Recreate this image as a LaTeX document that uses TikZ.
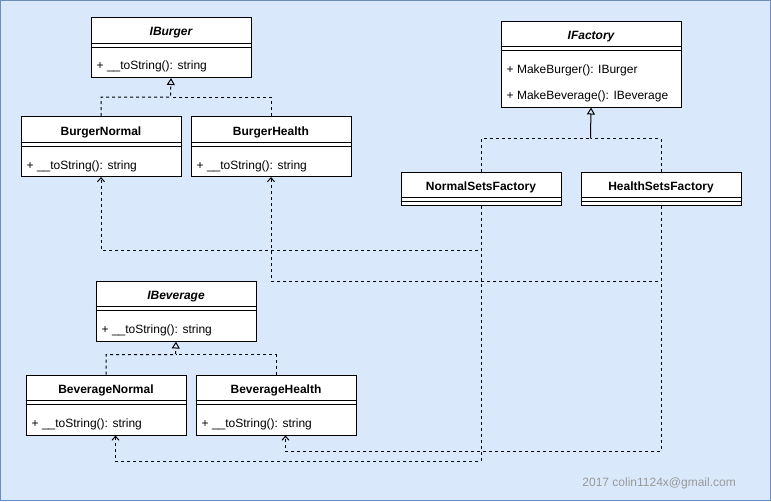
\documentclass[tikz,border=0pt]{standalone}
\usepackage{fontspec}
\setmainfont{Liberation Sans}
\usetikzlibrary{arrows.meta}
\definecolor{bgfill}{HTML}{DAE8FC}
\definecolor{bgline}{HTML}{6C8EBF}
\definecolor{footgray}{HTML}{999999}
\tikzset{
  cls/.style={draw, fill=white, line width=1pt, anchor=north west, inner sep=0pt, minimum width=160pt, minimum height=60pt},
  ttl/.style={font=\fontsize{12}{14}\selectfont\bfseries, inner sep=0pt},
  ittl/.style={font=\fontsize{12}{14}\selectfont\bfseries\itshape, inner sep=0pt},
  meth/.style={font=\fontsize{12}{14}\selectfont, inner sep=0pt, anchor=west},
  real/.style={line width=1pt, dash pattern=on 3pt off 3pt, -{Triangle[open, length=7pt, width=8pt, line width=1pt]}},
  realplain/.style={line width=1pt, dash pattern=on 3pt off 3pt},
  inh/.style={line width=1pt, -{Triangle[open, length=7pt, width=8pt, line width=1pt]}},
  dep/.style={line width=1pt, dash pattern=on 3pt off 3pt, -{Straight Barb[length=4pt, width=7pt, line width=1pt]}},
}
\newcommand\clssep[1]{%
  \draw[line width=1pt] ([yshift=-26pt]#1.north west) -- ([yshift=-26pt]#1.north east);
  \draw[line width=1pt] ([yshift=-30pt]#1.north west) -- ([yshift=-30pt]#1.north east);
}
\begin{document}
\begin{tikzpicture}[x=1pt, y=-1pt]
\useasboundingbox (0,0) rectangle (771,501);
\draw[fill=bgfill, draw=bgline, line width=1pt] (0.5,0.5) rectangle (770.5,500.5);

% classes
\node[cls] (ib) at (90.5,17) {};
\node[cls] (bn) at (20.5,116) {};
\node[cls] (bh) at (190.5,116) {};
\node[cls, minimum width=180pt, minimum height=86pt] (if) at (500.5,20.5) {};
\node[cls, minimum height=33.5pt] (nsf) at (400.5,171.5) {};
\node[cls, minimum height=33.5pt] (hsf) at (580.5,171.5) {};
\node[cls] (ibv) at (95.5,280.5) {};
\node[cls] (bvn) at (25.5,374.5) {};
\node[cls] (bvh) at (195.5,374.5) {};

\clssep{ib}\clssep{bn}\clssep{bh}\clssep{if}\clssep{nsf}\clssep{hsf}\clssep{ibv}\clssep{bvn}\clssep{bvh}

% titles
\node[ittl] (ibt) at ([yshift=-16pt]ib.north) {IBurger};
\node[ttl] (bnt) at ([yshift=-16pt]bn.north) {BurgerNormal};
\node[ttl] (bht) at ([yshift=-16pt]bh.north) {BurgerHealth};
\node[ittl] (ift) at ([yshift=-16pt]if.north) {IFactory};
\node[ttl] (nsft) at ([yshift=-16pt]nsf.north) {NormalSetsFactory};
\node[ttl] (hsft) at ([yshift=-16pt]hsf.north) {HealthSetsFactory};
\node[ittl] (ibvt) at ([yshift=-16pt]ibv.north) {IBeverage};
\node[ttl] (bvnt) at ([yshift=-16pt]bvn.north) {BeverageNormal};
\node[ttl] (bvht) at ([yshift=-16pt]bvh.north) {BeverageHealth};

% methods
\node[meth] (ibm) at ([xshift=6pt, yshift=-49pt]ib.north west) {+ \_\_toString(): string};
\node[meth] (bnm) at ([xshift=6pt, yshift=-50pt]bn.north west) {+ \_\_toString(): string};
\node[meth] (bhm) at ([xshift=6pt, yshift=-50pt]bh.north west) {+ \_\_toString(): string};
\node[meth] (ifm1) at ([xshift=6pt, yshift=-50.3pt]if.north west) {+ MakeBurger(): IBurger};
\node[meth] (ifm2) at ([xshift=6pt, yshift=-75.6pt]if.north west) {+ MakeBeverage(): IBeverage};
\node[meth] (ibvm) at ([xshift=6pt, yshift=-49.8pt]ibv.north west) {+ \_\_toString(): string};
\node[meth] (bvnm) at ([xshift=6pt, yshift=-50pt]bvn.north west) {+ \_\_toString(): string};
\node[meth] (bvhm) at ([xshift=6pt, yshift=-50pt]bvh.north west) {+ \_\_toString(): string};

% realizations
\coordinate (jb) at (170.5,97);
\draw[real] (bn.north) |- (jb) -- (ib.south);
\draw[realplain] (bh.north) |- (jb);

\coordinate (jbv) at (175.5,354.5);
\draw[real] (bvn.north) |- (jbv) -- (ibv.south);
\draw[realplain] (bvh.north) |- (jbv);

\coordinate (jf) at (590.5,138.5);
\draw[inh] (jf) -- (if.south);
\draw[realplain] (nsf.north) |- (jf);
\draw[realplain] (hsf.north) |- (jf);

% dependencies
\draw[dep] (nsf.south) -- ++(0,44.5) -| (bn.south);
\draw[dep] (nsf.south) -- ++(0,255) -| ([xshift=9.5pt]bvn.south);
\draw[dep] (hsf.south) -- ++(0,75) -| (bh.south);
\draw[dep] (hsf.south) -- ++(0,245) -| ([xshift=9.5pt]bvh.south);

% footer
\node[font=\fontsize{12}{14}\selectfont, text=footgray, inner sep=0pt, anchor=east] (foot) at (736,483) {2017 colin1124x@gmail.com};
\end{tikzpicture}
\end{document}
